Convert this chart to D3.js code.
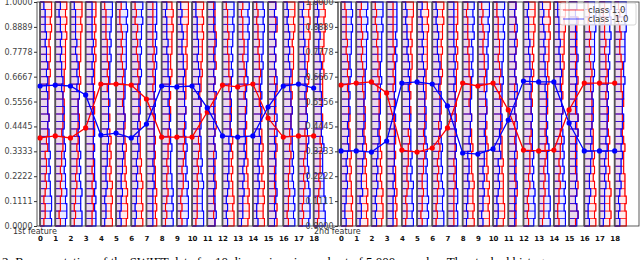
<!DOCTYPE html>
<html>
<head>
<meta charset="utf-8">
<script src="https://cdn.jsdelivr.net/npm/d3@7"></script>
<style>
  body { margin: 0; background: #fff; }
  svg { display: block; }
</style>
</head>
<body>
<svg id="chart" width="640" height="260" font-family="DejaVu Sans, sans-serif"></svg>
<script>
const features = d3.range(19)
const yTickValues = [0, 0.1111, 0.2222, 0.3333, 0.4445, 0.5556, 0.6667, 0.7778, 0.8889, 1]
const yTickLabels = ["0.0000", "0.1111", "0.2222", "0.3333", "0.4445", "0.5556", "0.6667", "0.7778", "0.8889", "1.0000"]
const panelLabels = ["1st feature", "2nd feature"]
const legendLabels = ["class 1.0", "class -1.0"]
const caption = "2: Representation of the SWIFT data for 10 dimensions in a subset of 5,000 samples. The stacked histograms"

// marker lines (one value per feature)
const blueLine1 = [0.625, 0.629, 0.625, 0.585, 0.406, 0.415, 0.393, 0.455, 0.625, 0.621, 0.625, 0.527, 0.402, 0.397, 0.402, 0.531, 0.625, 0.634, 0.616]
const redLine1 = [0.393, 0.402, 0.393, 0.438, 0.634, 0.634, 0.629, 0.567, 0.397, 0.397, 0.397, 0.509, 0.629, 0.621, 0.634, 0.482, 0.397, 0.402, 0.402]
const blueLine2 = [0.335, 0.335, 0.330, 0.379, 0.638, 0.643, 0.634, 0.536, 0.326, 0.321, 0.344, 0.473, 0.647, 0.643, 0.643, 0.460, 0.335, 0.335, 0.335]
const redLine2 = [0.629, 0.638, 0.643, 0.594, 0.339, 0.330, 0.348, 0.438, 0.638, 0.625, 0.638, 0.518, 0.339, 0.335, 0.339, 0.518, 0.638, 0.638, 0.638]

// histogram bin counts per feature, bottom bin first (0-9)
const blueHist1 = [
  "989988787877767666565655454443",
  "899898878787676766565545454434",
  "998898787877676667565654544443",
  "887878777676766666656565655555",
  "344345445556566676677787878899",
  "434454455656667667777888889898",
  "343445454565656767678778788989",
  "555556565666667676777878787888",
  "989898877787767656665554544434",
  "899989787787676766556554454343",
  "998889878777676675656545544433",
  "676656565765656567565656765656",
  "434345455565667676778787889899",
  "344454545656566776787788898989",
  "433445454556566767677878889898",
  "565676566565767565676565656756",
  "989898787877766766556545454343",
  "899898787778767665656554544434",
  "998988877787676676555654454343"
]
const redHist1 = [
  "344345455465667667778788789899",
  "434454545566567676777888898989",
  "343445455656567667787788889899",
  "556565656666676767677787878788",
  "988989787878767666565655544443",
  "899898787787677656656545454334",
  "989889878777676676565654545343",
  "878787776767666666565656555555",
  "343454454556566767678778889898",
  "434345545656566767777887888999",
  "344445454565667676778788898989",
  "656567656565676656565765676565",
  "998988787878766766565554454443",
  "899898878777676675656545544434",
  "988989787787767656556554544343",
  "767565656676565656756565657656",
  "434454455656566767677888789899",
  "343445454566567676787788898989",
  "344345455565667667778787889898"
]
const blueHist2 = [
  "433445454565656767678778889898",
  "344354455656567667777888898989",
  "434345454556566776787788889899",
  "555565656666767676777787878888",
  "989889787877767666565654544343",
  "898988878787676766556545454434",
  "998898787787676667565654454343",
  "887887777676766666565656555555",
  "343445455465667667778788798989",
  "434454545566566776777887889899",
  "344345454656567667787788898989",
  "565657656566676565765656567656",
  "899898787877767665656554544434",
  "989988877787676676565545454343",
  "998989787878766766556554544433",
  "676565665656757656565676565656",
  "433454455656567676778788889898",
  "344445454565666767677878898989",
  "434345455656567667787788889899"
]
const redHist2 = [
  "998988787877767666565654544443",
  "989898878787676766556545454434",
  "899898787877676667565655454343",
  "878787776767666666565656555555",
  "344345445556566767677887878899",
  "434454455656567667777888889898",
  "343445454565656776678778788989",
  "555556565666667676777878787888",
  "989889877787767656665554544434",
  "998989787787676766556554454343",
  "899888878777676675656545544433",
  "656576565765656567565656765656",
  "434345455565667676778787889899",
  "344454545656566767787788898989",
  "433445454556566767677878889899",
  "576567656565767565676565656756",
  "989898787877766766556545454343",
  "898898787778767665656554544434",
  "998988877787676676555654454343"
]

const panels = [
  { left: 37, label: panelLabels[0], red: redHist1, blue: blueHist1, redLine: redLine1, blueLine: blueLine1 },
  { left: 338, label: panelLabels[1], red: redHist2, blue: blueHist2, redLine: redLine2, blueLine: blueLine2 }
]

const svg = d3.select("#chart")
const panelWidth = 301
const y = d3.scaleLinear().domain([0, 1]).range([226, 2])
const w = d3.scaleLinear().domain([0, 9]).range([0, 0.76])
const colors = { red: "#ff0000", blue: "#0000ff" }

function drawHist(g, x, col, counts, color) {
  const n = counts.length
  // pale bars
  g.append("g")
    .selectAll("rect")
    .data(counts)
    .join("rect")
    .attr("x", x(col))
    .attr("y", (c, k) => y((k + 1) / n))
    .attr("width", (c) => x(col + w(c)) - x(col))
    .attr("height", (c, k) => y(k / n) - y((k + 1) / n))
    .attr("fill", color)
    .attr("fill-opacity", 0.08)
    .attr("stroke", color)
    .attr("stroke-opacity", 0.55)
    .attr("stroke-width", 0.9)
}

function drawStep(g, x, col, counts, color) {
  const n = counts.length
  const pts = [[col, 0]]
  counts.forEach((c, k) => {
    pts.push([col + w(c), k / n])
    pts.push([col + w(c), (k + 1) / n])
  })
  pts.push([col, 1])
  g.append("path")
    .datum(pts)
    .attr("fill", "none")
    .attr("stroke", color)
    .attr("stroke-width", 1.1)
    .attr("d", d3.line().x((d) => x(d[0])).y((d) => y(d[1])))
}

panels.forEach((p) => {
  const x = d3.scaleLinear().domain([-0.2, 19.6]).range([p.left, p.left + panelWidth])
  const g = svg.append("g")
  const red = p.red.map((s) => s.split("").map(Number))
  const blue = p.blue.map((s) => s.split("").map(Number))

  features.forEach((i) => {
    drawHist(g, x, i, red[i], colors.red)
    drawHist(g, x, i, blue[i], colors.blue)
  })
  features.forEach((i) => {
    drawStep(g, x, i, red[i], colors.red)
    drawStep(g, x, i, blue[i], colors.blue)
  })

  // baseline of each feature column
  g.append("g")
    .selectAll("line")
    .data(features)
    .join("line")
    .attr("x1", (d) => x(d))
    .attr("x2", (d) => x(d))
    .attr("y1", y(0))
    .attr("y2", y(1))
    .attr("stroke", "#555")
    .attr("stroke-width", 1.8)

  // class lines with markers
  const line = d3.line().x((d, i) => x(i)).y((d) => y(d))
  ;[["redLine", colors.red], ["blueLine", colors.blue]].forEach(([key, color]) => {
    g.append("path")
      .datum(p[key])
      .attr("fill", "none")
      .attr("stroke", color)
      .attr("stroke-width", 1.3)
      .attr("d", line)
    g.append("g")
      .selectAll("circle")
      .data(p[key])
      .join("circle")
      .attr("cx", (d, i) => x(i))
      .attr("cy", (d) => y(d))
      .attr("r", 2.6)
      .attr("fill", color)
  })

  // frame
  g.append("rect")
    .attr("x", p.left)
    .attr("y", y(1))
    .attr("width", panelWidth)
    .attr("height", y(0) - y(1))
    .attr("fill", "none")
    .attr("stroke", "#333")
    .attr("stroke-width", 0.8)

  p.x = x
})

panels.forEach((p) => {
  const x = p.x
  const yAxis = svg.append("g")
    .attr("transform", `translate(${p.left},0)`)
    .call(d3.axisLeft(y).tickValues(yTickValues).tickFormat((d, i) => yTickLabels[i]).tickSize(3).tickPadding(1.5))
  yAxis.attr("font-family", null)
  yAxis.select(".domain").remove()
  yAxis.selectAll("line").attr("stroke", "#333")
  yAxis.selectAll("text").attr("font-size", 8).attr("fill", "#444")

  const xAxis = svg.append("g")
    .attr("transform", `translate(0,${y(0)})`)
    .call(d3.axisBottom(x).tickValues(features).tickFormat((d) => String(d)).tickSize(0).tickPadding(10))
  xAxis.attr("font-family", null)
  xAxis.select(".domain").remove()
  xAxis.selectAll("text").attr("font-size", 7).attr("font-weight", "bold").attr("fill", "#111")

  svg.append("text")
    .attr("x", p.left - 24)
    .attr("y", 234)
    .attr("font-size", 8)
    .attr("fill", "#333")
    .text(p.label)
})

// legend
const lg = svg.append("g")
lg.append("rect")
  .attr("x", 560).attr("y", 3).attr("width", 76).attr("height", 22).attr("rx", 2)
  .attr("fill", "#fff").attr("fill-opacity", 0.8).attr("stroke", "#ccc").attr("stroke-width", 0.8)
legendLabels.forEach((t, i) => {
  const color = i === 0 ? colors.red : colors.blue
  lg.append("line")
    .attr("x1", 563).attr("x2", 584).attr("y1", 10 + i * 9).attr("y2", 10 + i * 9)
    .attr("stroke", color).attr("stroke-opacity", 0.45).attr("stroke-width", 1.5)
  lg.append("text")
    .attr("x", 588).attr("y", 13 + i * 9)
    .attr("font-size", 8.5).attr("fill", "#333")
    .text(t)
})

svg.append("text")
  .attr("x", 2)
  .attr("y", 266)
  .attr("font-family", "Liberation Serif, serif")
  .attr("font-size", 13)
  .attr("fill", "#000")
  .text(caption)
</script>
</body>
</html>
